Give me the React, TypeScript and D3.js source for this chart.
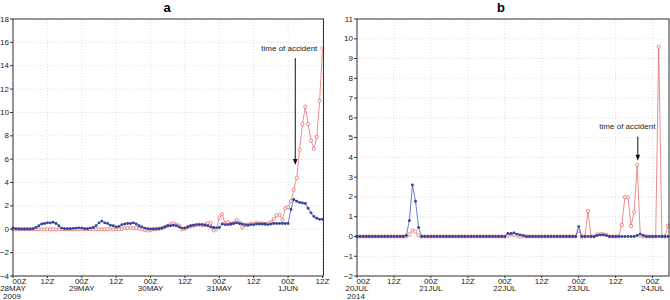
import React from 'react';
import * as d3 from 'd3';

const WIDTH = 670;
const HEIGHT = 300;
const FONT = 'Arial, "Liberation Sans", Helvetica, sans-serif';

// panel a: hourly values from 28MAY2009 00Z to 1JUN 12Z
const blueA = [
  0.1, 0.05, 0.02, 0.02, 0.02, 0.02, 0.02, 0.05, 0.15, 0.3,
  0.45, 0.5, 0.55, 0.55, 0.6, 0.5, 0.3, 0.1, 0.05, 0.05,
  0.05, 0.08, 0.1, 0.12, 0.1, 0.05, 0.05, 0.1, 0.15, 0.3,
  0.55, 0.7, 0.55, 0.5, 0.35, 0.3, 0.2, 0.25, 0.4, 0.45,
  0.5, 0.5, 0.55, 0.45, 0.3, 0.2, 0.1, 0.05, 0.02, 0.02,
  0.05, 0.05, 0.1, 0.2, 0.3, 0.3, 0.35, 0.3, 0.2, 0.1,
  0.1, 0.2, 0.3, 0.35, 0.4, 0.4, 0.4, 0.35, 0.3, 0.2,
  0.15, 0.12, 0.15, 0.45, 0.4, 0.4, 0.45, 0.5, 0.55, 0.5,
  0.45, 0.4, 0.35, 0.4, 0.4, 0.45, 0.45, 0.45, 0.45, 0.4,
  0.45, 0.5, 0.5, 0.5, 0.5, 0.5, 0.5, 1.7, 2.55, 2.4,
  2.3, 2.25, 2.2, 1.8, 1.4, 1.1, 0.95, 0.85, 0.85
];
const redA = [
  0, 0, 0, 0, 0, 0, 0, 0, 0, 0,
  0, 0, 0, 0, 0, 0, 0, 0, 0, 0,
  0, 0, 0, 0, 0, 0, 0, 0, 0, 0,
  0, 0, 0, 0, 0, 0, 0, 0, 0.05, 0.1,
  0.1, 0.15, 0.1, 0.1, 0.05, 0, -0.05, -0.1, -0.05, 0,
  0, 0.05, 0.1, 0.2, 0.3, 0.45, 0.5, 0.4, 0.3, 0,
  0.05, 0.2, 0.25, 0.3, 0.35, 0.4, 0.35, 0.4, 0.5, 0.55,
  -0.1, 0, 1.0, 1.3, 0.5, 0.6, 0.45, 0.55, 0.8, 0.6,
  0.15, 0.35, 0.4, 0.5, 0.45, 0.55, 0.5, 0.5, 0.45, 0.5,
  0.6, 0.9, 1.2, 1.25, 0.8, 1.8, 1.9, 2.4, 3.4, 4.4,
  6.8, 9.0, 10.5, 9.0, 7.6, 6.9, 7.9, 11.0, 15.5
];
const timesA = ['00Z', '12Z', '00Z', '12Z', '00Z', '12Z', '00Z', '12Z', '00Z', '12Z'];
const datesA = ['28MAY', '', '29MAY', '', '30MAY', '', '31MAY', '', '1JUN', ''];
const yearA = '2009';

// panel b: hourly values from 20JUL2014 00Z to 24JUL 05Z
const blueB = [
  0, 0, 0, 0, 0, 0, 0, 0, 0, 0, 0, 0,
  0, 0, 0, 0, 0.05, 0.8, 2.6, 1.78, 0.45, 0, 0, 0,
  0, 0, 0, 0, 0, 0, 0, 0, 0, 0, 0, 0,
  0, 0, 0, 0, 0, 0, 0, 0, 0, 0, 0, 0,
  0, 0.15, 0.15, 0.18, 0.12, 0.08, 0.05, 0, 0, 0, 0, 0,
  0, 0, 0, 0, 0, 0, 0, 0, 0, 0, 0, 0,
  0.5, 0, 0, 0, 0, 0, 0.05, 0.08, 0.08, 0.05, 0, 0,
  0, 0, 0, 0, 0, 0, 0, 0.05, 0.12, 0.05, 0, 0,
  0, 0, 0, 0, 0, 0
];
const redB = [
  0, 0, 0, 0, 0, 0, 0, 0, 0, 0, 0, 0,
  0, 0, 0, 0, 0, 0.1, 0.3, 0.25, 0.05, 0, 0, 0,
  0, 0, 0, 0, 0, 0, 0, 0, 0, 0, 0, 0,
  0, 0, 0, 0, 0, 0, 0, 0, 0, 0, 0, 0,
  0, 0.05, 0.1, 0.08, 0.05, 0, 0, 0, 0, 0, 0, 0,
  0, 0, 0, 0, 0, 0, 0, 0, 0, 0, 0, 0,
  0.3, 0, 0, 1.28, 0, 0, 0.1, 0.12, 0.12, 0.08, 0, 0,
  0, 0, 0.58, 1.98, 1.98, 0.53, 1.25, 3.62, 0.05, 0, 0, 0,
  0, 0, 9.6, 0, 0, 0.55
];
const timesB = ['00Z', '12Z', '00Z', '12Z', '00Z', '12Z', '00Z', '12Z', '00Z'];
const datesB = ['20JUL', '', '21JUL', '', '22JUL', '', '23JUL', '', '24JUL'];
const yearB = '2014';

const NOTE = 'time of accident';

const BLUE_LINE = '#4f72cf';
const BLUE_DOT = '#33449a';
const RED_LINE = '#ea8080';
const RED_DOT = '#e25d5d';

function Panel({title, titleX, xRange, yRange, xDomain, yDomain, yStep, blue, red,
  times, dates, year, note}) {
  const x = d3.scaleLinear().domain(xDomain).range(xRange);
  const y = d3.scaleLinear().domain(yDomain).range(yRange);
  const yTicks = d3.range(yDomain[0], yDomain[1] + 0.001, yStep);
  const xTicks = times.map((t, i) => i * 12);

  const lineFunc = d3.line<number>()
    .x((d, i) => x(i))
    .y(d => y(d));

  const left = xRange[0];
  const right = xRange[1] + 1;
  const top = yRange[1];
  const bottom = yRange[0];

  const ax = x(note.hour);
  const tipY = y(note.tip);

  return (
    <g>
      <text x={titleX} y={12} textAnchor="middle" fontFamily={FONT}
        fontWeight="bold" fontSize={13}>{title}</text>

      {yTicks.map(t => (
        <line key={'gy' + t} x1={left} x2={right} y1={y(t)} y2={y(t)}
          stroke="#d4d4d4" strokeWidth={0.8} strokeDasharray="1,2"/>
      ))}
      {xTicks.map(t => (
        <line key={'gx' + t} x1={x(t)} x2={x(t)} y1={top} y2={bottom}
          stroke="#d4d4d4" strokeWidth={0.8} strokeDasharray="1,2"/>
      ))}

      <path d={lineFunc(red) || ''} fill="none" stroke={RED_LINE} strokeWidth={0.9}/>
      {red.map((d, i) => (
        <circle key={'r' + i} cx={x(i)} cy={y(d)} r={1.6} fill="white"
          stroke={RED_DOT} strokeWidth={0.7}/>
      ))}
      <path d={lineFunc(blue) || ''} fill="none" stroke={BLUE_LINE} strokeWidth={0.9}/>
      {blue.map((d, i) => (
        <circle key={'b' + i} cx={x(i)} cy={y(d)} r={1.45} fill={BLUE_DOT}/>
      ))}

      <rect x={left} y={top} width={right - left} height={bottom - top}
        fill="none" stroke="#333" strokeWidth={1}/>

      {yTicks.map(t => (
        <g key={'ty' + t}>
          <line x1={left - 3} x2={left} y1={y(t)} y2={y(t)} stroke="#333"/>
          <text x={left - 4} y={y(t) + 2.5} textAnchor="end" fontFamily={FONT}
            fontSize={8} fill="#222">{t < 0 ? '\u2212' + (-t) : t}</text>
        </g>
      ))}

      {xTicks.map((t, i) => (
        <g key={'tx' + t}>
          <line x1={x(t)} x2={x(t)} y1={bottom} y2={bottom + 2} stroke="#333"/>
          {/* the first time label starts at the axis so it clears the lowest y label */}
          <text x={i === 0 ? x(t) - 0.5 : x(t)} y={bottom + 7.5}
            textAnchor={i === 0 ? 'start' : 'middle'} fontFamily={FONT}
            fontSize={8} fill="#222">{times[i]}</text>
          {dates[i] ? (
            <text x={x(t)} y={bottom + 15} textAnchor="middle" fontFamily={FONT}
              fontSize={8} fill="#222">{dates[i]}</text>
          ) : null}
          {i === 0 ? (
            <text x={x(t) - 1} y={bottom + 22.5} textAnchor="middle" fontFamily={FONT}
              fontSize={8} fill="#222">{year}</text>
          ) : null}
        </g>
      ))}

      <text x={x(note.textEnd)} y={y(note.textY)} textAnchor="end" fontFamily={FONT}
        fontSize={8} fill="#222">{NOTE}</text>
      <line x1={ax} x2={ax} y1={y(note.top)} y2={tipY - 4} stroke="#111" strokeWidth={1}/>
      <path d={`M${ax},${tipY}L${ax - 2.3},${tipY - 6}L${ax + 2.3},${tipY - 6}Z`} fill="#111"/>
    </g>
  );
}

export default function App() {
  return (
    <svg width={WIDTH} height={HEIGHT}
      style={{position: 'absolute', left: 0, top: 0, background: 'white'}}>
      <rect width={WIDTH} height={HEIGHT} fill="white"/>
      <Panel title="a" titleX={167}
        xRange={[13, 322.5]} yRange={[276, 19]}
        xDomain={[0, 108]} yDomain={[-4, 18]} yStep={2}
        blue={blueA} red={redA}
        times={timesA} dates={datesA} year={yearA}
        note={{hour: 98.5, top: 14.65, tip: 5.5, textEnd: 106.2, textY: 15.3}}/>
      <Panel title="b" titleX={501}
        xRange={[357, 668]} yRange={[276, 19]}
        xDomain={[0, 101]} yDomain={[-2, 11]} yStep={1}
        blue={blueB} red={redB}
        times={timesB} dates={datesB} year={yearB}
        note={{hour: 91.2, top: 5.05, tip: 3.83, textEnd: 96.9, textY: 5.44}}/>
    </svg>
  );
}
